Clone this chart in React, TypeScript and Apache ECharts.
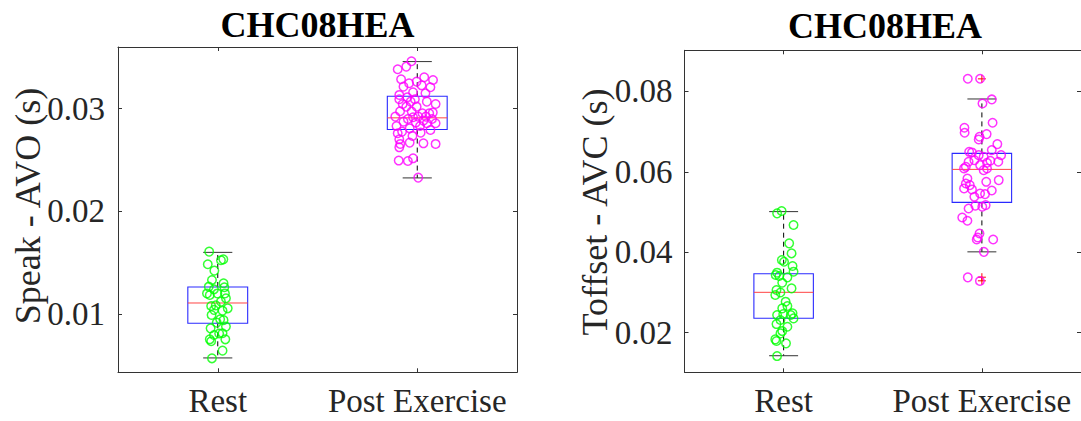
import React, { useEffect, useRef } from "react";
import * as echarts from "echarts";

// ---------- data ----------
const categories = ["Rest", "Post Exercise"];
const titles = ["CHC08HEA", "CHC08HEA"];
const yNames = ["Speak - AVO (s)", "Toffset - AVC (s)"];

const leftTicks = [0.01, 0.02, 0.03];
const rightTicks = [0.02, 0.04, 0.06, 0.08];

// box stats: [min whisker, q1, median, q3, max whisker]
const leftRestBox = [0.00572, 0.00909, 0.01107, 0.01263, 0.016];
const leftPostBox = [0.02325, 0.02796, 0.0291, 0.03121, 0.03458];
const rightRestBox = [0.01428, 0.02358, 0.03004, 0.03467, 0.0501];
const rightPostBox = [0.0401, 0.05239, 0.0606, 0.06457, 0.0781];
const rightPostOutliers = [0.0831, 0.0338, 0.0329];

const leftRestValues = [0.01607, 0.01484, 0.01532, 0.01523, 0.01422, 0.01331, 0.01299, 0.01266, 0.0124, 0.0126, 0.012, 0.01185, 0.01153, 0.0112, 0.01084, 0.01078, 0.01055, 0.01032, 0.0099, 0.00948, 0.00916, 0.00877, 0.0086, 0.00812, 0.00795, 0.00753, 0.00753, 0.00734, 0.00643, 0.00568, 0.012, 0.0104, 0.0094, 0.0081, 0.012];
const leftRestJitter = [-0.043, -0.05, 0.028, 0.016, -0.017, -0.029, 0.029, -0.045, -0.019, 0.033, -0.002, -0.04, 0.041, 0.016, -0.01, -0.033, 0.05, 0.024, -0.031, 0.012, -0.005, 0.041, -0.036, 0.024, -0.019, -0.04, 0.038, -0.033, 0.024, -0.029, -0.054, -0.019, 0.029, 0.007, 0.036];

const leftPostValues = [0.03461, 0.03409, 0.03383, 0.03286, 0.03305, 0.03279, 0.03247, 0.03263, 0.03208, 0.03227, 0.03214, 0.03159, 0.03149, 0.03133, 0.0311, 0.03091, 0.03091, 0.03068, 0.03045, 0.03045, 0.03019, 0.02974, 0.02971, 0.02955, 0.02955, 0.02961, 0.02922, 0.02922, 0.02916, 0.02899, 0.02883, 0.02899, 0.02873, 0.02864, 0.02857, 0.02857, 0.02831, 0.02831, 0.02808, 0.02792, 0.02776, 0.0276, 0.02766, 0.02734, 0.02701, 0.02662, 0.02669, 0.02656, 0.02656, 0.02623, 0.02516, 0.0249, 0.02494, 0.02328, 0.02922, 0.03019, 0.03068];
const leftPostJitter = [-0.029, -0.055, -0.098, -0.081, 0.035, 0.079, -0.041, -0.003, 0.066, 0.022, -0.069, -0.021, 0.041, -0.09, -0.05, -0.09, -0.012, -0.033, 0.092, -0.073, -0.055, -0.086, -0.028, 0.026, 0.06, 0.078, 0.043, 0.005, -0.021, -0.047, 0.031, 0.074, -0.069, -0.007, 0.092, 0.048, -0.104, 0.014, -0.038, 0.066, -0.076, -0.098, 0.017, -0.024, -0.09, 0.031, -0.038, 0.092, -0.085, -0.09, -0.021, -0.047, -0.093, 0.005, -0.11, -0.003, 0.048];

const rightRestValues = [0.05025, 0.04967, 0.04677, 0.04221, 0.03973, 0.03807, 0.03765, 0.03658, 0.03517, 0.03492, 0.03409, 0.03376, 0.03243, 0.03102, 0.03061, 0.02937, 0.02771, 0.02663, 0.02605, 0.02481, 0.02439, 0.02464, 0.02356, 0.02315, 0.02215, 0.02149, 0.02041, 0.01983, 0.01834, 0.01793, 0.01735, 0.0142, 0.03434, 0.03, 0.0244];
const rightRestJitter = [-0.01, -0.033, 0.05, 0.028, 0.04, -0.009, 0.002, 0.045, 0.05, -0.033, -0.022, 0.019, -0.007, 0.04, -0.036, -0.042, 0.01, 0.019, -0.007, 0.045, -0.033, -0.002, 0.05, -0.016, -0.036, 0.019, -0.007, -0.016, -0.042, -0.036, 0.012, -0.033, -0.04, -0.016, 0.036];

const rightPostValues = [0.08312, 0.07799, 0.07699, 0.07218, 0.07094, 0.0697, 0.06937, 0.0687, 0.06804, 0.06688, 0.06539, 0.06497, 0.06481, 0.06414, 0.06414, 0.06373, 0.0629, 0.06274, 0.06249, 0.06249, 0.06224, 0.06166, 0.06124, 0.06083, 0.06083, 0.06041, 0.05834, 0.05793, 0.05751, 0.0571, 0.05668, 0.05586, 0.05561, 0.05536, 0.05461, 0.05445, 0.05378, 0.05171, 0.05155, 0.0513, 0.05088, 0.04864, 0.04782, 0.04467, 0.04367, 0.04317, 0.04317, 0.0401, 0.03376, 0.03285, 0.08312];
const rightPostJitter = [-0.071, 0.05, 0.003, 0.054, -0.088, -0.087, 0.024, -0.012, -0.016, 0.078, 0.05, -0.064, -0.05, 0.097, -0.016, 0.009, -0.038, 0.043, 0.083, -0.067, 0.026, -0.009, -0.081, 0.026, -0.09, 0.009, -0.073, 0.085, 0.022, -0.081, -0.061, -0.09, -0.05, 0.05, -0.009, 0.016, -0.038, 0.019, -0.033, 0.002, -0.067, -0.099, -0.073, -0.012, -0.021, -0.026, 0.057, 0.01, -0.071, -0.01, -0.009];

// ---------- styling ----------
const FONT = '"Liberation Serif", "Times New Roman", serif';
const AXIS_COLOR = "#333333";
const GREEN = "#00ff00";
const MAGENTA = "#ff00ff";

function pts(values: number[], jitter: number[], center: number) {
  return values.map((v, i) => [center + jitter[i], v]);
}

function boxRender(params: any, api: any) {
  const x = api.value(0);
  const mn = api.value(1), q1 = api.value(2), md = api.value(3), q3 = api.value(4), mx = api.value(5);
  const half = api.size([0.15, 0])[0];
  const capHalf = api.size([0.073, 0])[0];
  const pMin = api.coord([x, mn]);
  const pQ1 = api.coord([x, q1]);
  const pMd = api.coord([x, md]);
  const pQ3 = api.coord([x, q3]);
  const pMax = api.coord([x, mx]);
  const cx = pMd[0];
  return {
    type: "group",
    children: [
      { type: "line", shape: { x1: cx, y1: pQ3[1], x2: cx, y2: pMax[1] }, style: { stroke: "#000", lineWidth: 1, lineDash: [5, 4] } },
      { type: "line", shape: { x1: cx, y1: pQ1[1], x2: cx, y2: pMin[1] }, style: { stroke: "#000", lineWidth: 1, lineDash: [5, 4] } },
      { type: "line", shape: { x1: cx - capHalf, y1: pMax[1], x2: cx + capHalf, y2: pMax[1] }, style: { stroke: "#333", lineWidth: 1 } },
      { type: "line", shape: { x1: cx - capHalf, y1: pMin[1], x2: cx + capHalf, y2: pMin[1] }, style: { stroke: "#333", lineWidth: 1 } },
      { type: "rect", shape: { x: cx - half, y: pQ3[1], width: 2 * half, height: pQ1[1] - pQ3[1] }, style: { fill: "none", stroke: "#2a2aff", lineWidth: 1.1 } },
      { type: "line", shape: { x1: cx - half, y1: pMd[1], x2: cx + half, y2: pMd[1] }, style: { stroke: "#ff4444", lineWidth: 1 } },
    ],
  };
}

function plusRender(params: any, api: any) {
  const p = api.coord([api.value(0), api.value(1)]);
  const s = 4;
  return {
    type: "group",
    children: [
      { type: "line", shape: { x1: p[0] - s, y1: p[1], x2: p[0] + s, y2: p[1] }, style: { stroke: "#ff0000", lineWidth: 1 } },
      { type: "line", shape: { x1: p[0], y1: p[1] - s, x2: p[0], y2: p[1] + s }, style: { stroke: "#ff0000", lineWidth: 1 } },
    ],
  };
}

function xAxes(gridIndex: number) {
  const common = {
    type: "value",
    gridIndex,
    min: 0.5,
    max: 2.5,
    splitLine: { show: false },
    axisLine: { show: true, onZero: false, lineStyle: { color: AXIS_COLOR, width: 1 } },
    axisTick: { show: true, inside: true, length: 4, customValues: [1, 2], lineStyle: { color: AXIS_COLOR } },
  };
  return [
    {
      ...common,
      position: "bottom",
      axisLabel: {
        show: true,
        customValues: [1, 2],
        formatter: (v: number) => categories[Math.round(v) - 1] || "",
        fontFamily: FONT,
        fontSize: 33,
        color: "#262626",
        margin: 12,
      },
    },
    { ...common, position: "top", axisLabel: { show: false } },
  ];
}

function yAxes(gridIndex: number, min: number, max: number, ticks: number[], margin: number) {
  const common = {
    type: "value",
    gridIndex,
    min,
    max,
    splitLine: { show: false },
    axisLine: { show: true, onZero: false, lineStyle: { color: AXIS_COLOR, width: 1 } },
    axisTick: { show: true, inside: true, length: 4, customValues: ticks, lineStyle: { color: AXIS_COLOR } },
  };
  return [
    {
      ...common,
      position: "left",
      axisLabel: {
        show: true,
        customValues: ticks,
        formatter: (v: number) => v.toFixed(2),
        fontFamily: FONT,
        fontSize: 33,
        color: "#262626",
        margin,
      },
    },
    { ...common, position: "right", axisLabel: { show: false } },
  ];
}

function scatter(xi: number, yi: number, data: number[][], color: string) {
  return {
    type: "scatter",
    xAxisIndex: xi,
    yAxisIndex: yi,
    data,
    symbol: "circle",
    symbolSize: 8.5,
    itemStyle: { color: "rgba(0,0,0,0)", borderColor: color, borderWidth: 1.5 },
    z: 5,
    silent: true,
  };
}

export default function App() {
  const ref = useRef<HTMLDivElement>(null);
  useEffect(() => {
    if (!ref.current) return;
    const chart = echarts.init(ref.current, null, { renderer: "svg" });
    const option: any = {
      animation: false,
      backgroundColor: "#ffffff",
      grid: [
        { left: 118, top: 47, width: 399, height: 325.3 },
        { left: 684.5, top: 50.3, width: 399, height: 322 },
      ],
      xAxis: [...xAxes(0), ...xAxes(1)],
      yAxis: [
        ...yAxes(0, 0.00432, 0.036, leftTicks, 13),
        ...yAxes(1, 0.01016, 0.0902, rightTicks, 12),
      ],
      series: [
        {
          type: "custom",
          xAxisIndex: 0,
          yAxisIndex: 0,
          renderItem: boxRender,
          data: [[1, ...leftRestBox], [2, ...leftPostBox]],
          z: 2,
          silent: true,
        },
        {
          type: "custom",
          xAxisIndex: 2,
          yAxisIndex: 2,
          renderItem: boxRender,
          data: [[1, ...rightRestBox], [2, ...rightPostBox]],
          z: 2,
          silent: true,
        },
        {
          type: "custom",
          xAxisIndex: 2,
          yAxisIndex: 2,
          renderItem: plusRender,
          data: rightPostOutliers.map((v) => [2, v]),
          z: 3,
          silent: true,
        },
        scatter(0, 0, pts(leftRestValues, leftRestJitter, 1), GREEN),
        scatter(0, 0, pts(leftPostValues, leftPostJitter, 2), MAGENTA),
        scatter(2, 2, pts(rightRestValues, rightRestJitter, 1), GREEN),
        scatter(2, 2, pts(rightPostValues, rightPostJitter, 2), MAGENTA),
      ],
      graphic: [
        { type: "text", x: 317.5, y: 25, style: { text: titles[0], fontFamily: FONT, fontSize: 36, fontWeight: "bold", fill: "#000", align: "center", verticalAlign: "middle" } },
        { type: "text", x: 885, y: 26, style: { text: titles[1], fontFamily: FONT, fontSize: 36, fontWeight: "bold", fill: "#000", align: "center", verticalAlign: "middle" } },
        { type: "text", x: 28, y: 206, rotation: Math.PI / 2, style: { text: yNames[0], fontFamily: FONT, fontSize: 36, fill: "#262626", align: "center", verticalAlign: "middle" } },
        { type: "text", x: 595, y: 212, rotation: Math.PI / 2, style: { text: yNames[1], fontFamily: FONT, fontSize: 36, fill: "#262626", align: "center", verticalAlign: "middle" } },
      ],
    };
    chart.setOption(option);
    return () => chart.dispose();
  }, []);
  return (
    <div
      ref={ref}
      style={{ position: "fixed", left: 0, top: 0, width: 1081, height: 421, background: "#fff" }}
    />
  );
}
